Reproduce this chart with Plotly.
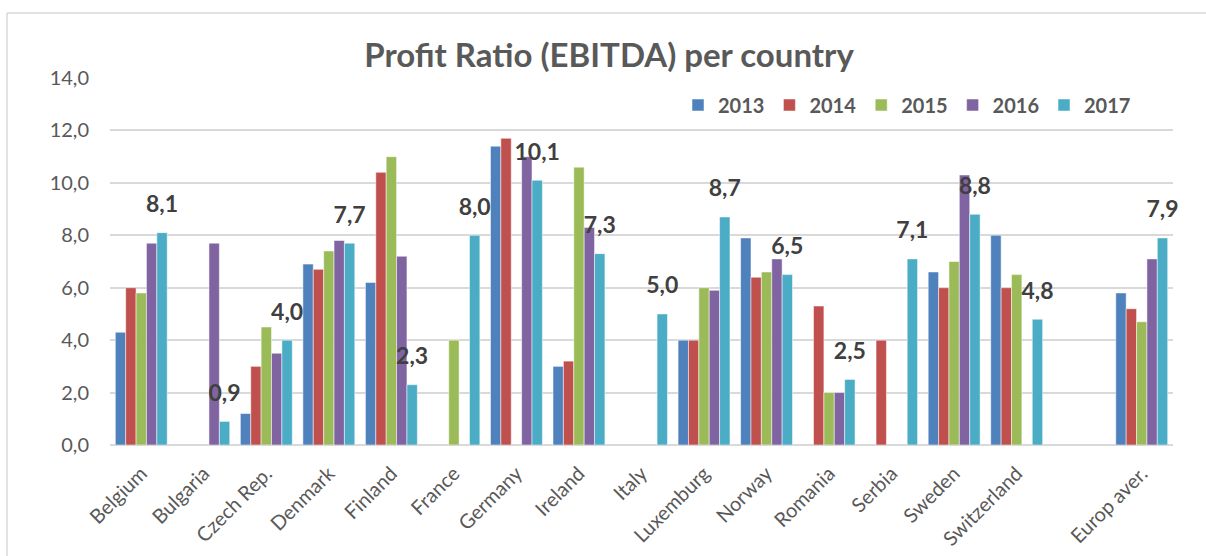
import plotly.graph_objects as go

countries = ["Belgium", "Bulgaria", "Czech Rep.", "Denmark", "Finland", "France",
             "Germany", "Ireland", "Italy", "Luxemburg", "Norway", "Romania",
             "Serbia", "Sweden", "Switzerland", " ", "Europ aver."]

v2013 = [4.3, None, 1.2, 6.9, 6.2, None, 11.4, 3.0, None, 4.0, 7.9, None, None, 6.6, 8.0, None, 5.8]
v2014 = [6.0, None, 3.0, 6.7, 10.4, None, 11.7, 3.2, None, 4.0, 6.4, 5.3, 4.0, 6.0, 6.0, None, 5.2]
v2015 = [5.8, None, 4.5, 7.4, 11.0, 4.0, None, 10.6, None, 6.0, 6.6, 2.0, None, 7.0, 6.5, None, 4.7]
v2016 = [7.7, 7.7, 3.5, 7.8, 7.2, None, 11.0, 8.3, None, 5.9, 7.1, 2.0, None, 10.3, None, None, 7.1]
v2017 = [8.1, 0.9, 4.0, 7.7, 2.3, 8.0, 10.1, 7.3, 5.0, 8.7, 6.5, 2.5, 7.1, 8.8, 4.8, None, 7.9]

years = ["2013", "2014", "2015", "2016", "2017"]
series = [v2013, v2014, v2015, v2016, v2017]
colors = ["#4F81BD", "#C0504D", "#9BBB59", "#8064A2", "#4BACC6"]

FONT = "Lato"
GRAY = "#595959"
GAP = 0.17

fig = go.Figure()
for name, vals, col in zip(years, series, colors):
    fig.add_trace(go.Bar(x=countries, y=vals, name=name, marker_color=col,
                         offsetgroup=name,
                         marker_line=dict(color="white", width=0.5)))

# data labels (2017 only), grouped the same way as the bars
for name, vals in zip(years, series):
    is_last = name == "2017"
    fig.add_trace(go.Scatter(
        x=countries, y=vals, offsetgroup=name, showlegend=False,
        hoverinfo="skip",
        mode="markers+text" if is_last else "markers",
        marker=dict(size=22, opacity=0),
        texttemplate="%{y:.1f}" if is_last else None,
        textposition="top center",
        textfont=dict(family=FONT, size=23, color="#404040", weight="bold"),
        cliponaxis=False))

W, H = 1206, 556
L, R, T, B = 110, 33, 78, 111
pw, ph = W - L - R, H - T - B


def px2x(p):
    return (p - L) / pw


def py2y(p):
    return (H - B - p) / ph


border = dict(color="#D9D9D9", width=1.5)
fig.update_layout(
    width=W, height=H,
    margin=dict(l=L, r=R, t=T, b=B),
    paper_bgcolor="white", plot_bgcolor="white",
    separators=", ",
    barmode="group", bargap=GAP, bargroupgap=0,
    scattermode="group", scattergap=GAP,
    font=dict(family=FONT, color=GRAY),
    title=dict(text="<b>Profit Ratio (EBITDA) per country</b>",
               font=dict(family=FONT, size=33, color=GRAY),
               x=0.505, xanchor="center", y=(H - 55) / H, yanchor="middle"),
    legend=dict(orientation="h", x=px2x(678), xanchor="left",
                y=py2y(105), yanchor="middle",
                font=dict(family=FONT, size=20, color=GRAY, weight="bold"),
                bgcolor="rgba(0,0,0,0)", traceorder="normal"),
    showlegend=True,
    shapes=[
        dict(type="line", xref="paper", yref="paper",
             x0=px2x(7), x1=px2x(W), y0=py2y(13), y1=py2y(13), line=border, layer="below"),
        dict(type="line", xref="paper", yref="paper",
             x0=px2x(7), x1=px2x(7), y0=py2y(13), y1=py2y(H), line=border, layer="below"),
    ],
)

fig.update_yaxes(range=[0, 14], dtick=2, tickformat=".1f", automargin=False,
                 showgrid=True, gridcolor="#D9D9D9", gridwidth=1.5,
                 zeroline=True, zerolinecolor="#D9D9D9", zerolinewidth=1.5,
                 showline=False, ticks="", ticklabelstandoff=20,
                 tickfont=dict(family=FONT, size=20, color=GRAY))
fig.update_xaxes(tickangle=-45, showgrid=False, showline=False, ticks="",
                 automargin=False, ticklabelstandoff=12,
                 tickfont=dict(family=FONT, size=20, color=GRAY))

fig.write_html("out.html",
               config={"displayModeBar": False},
               post_script="document.body.style.margin='0';"
                           "document.body.style.overflow='hidden';")
